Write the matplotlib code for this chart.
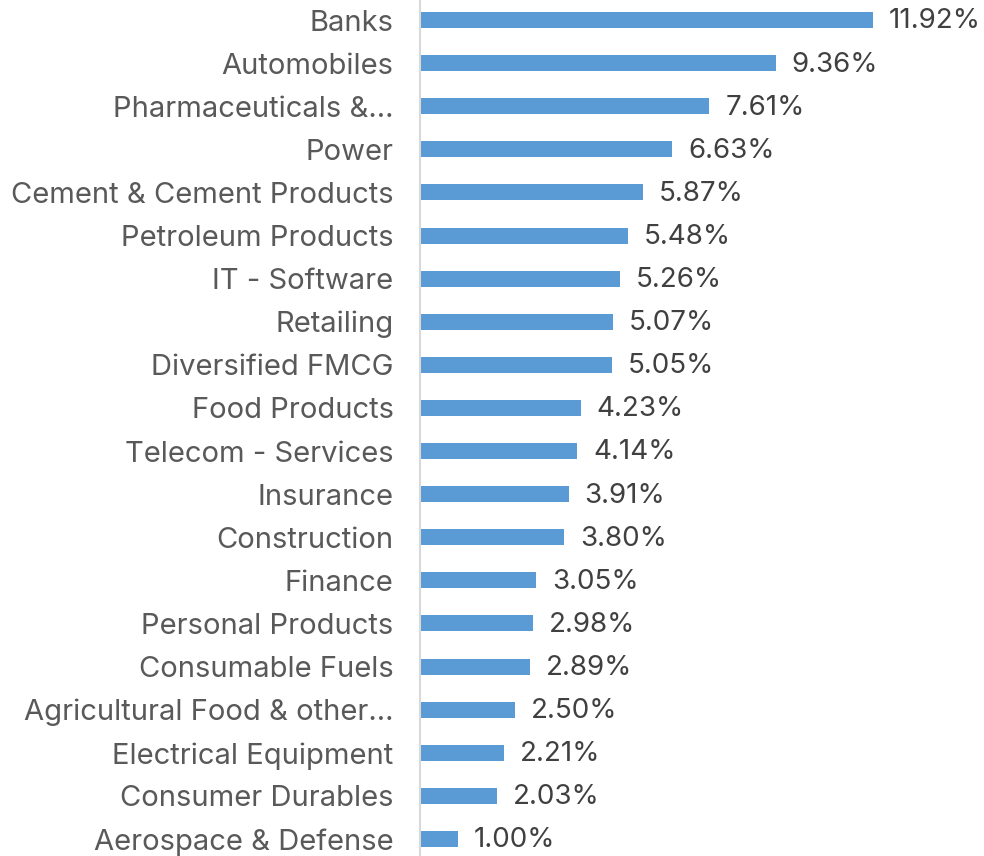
import matplotlib.pyplot as plt

plt.rcParams['font.family'] = ['Inter', 'DejaVu Sans']

sectors = ["Banks", "Automobiles", "Pharmaceuticals &…", "Power",
           "Cement & Cement Products", "Petroleum Products", "IT - Software",
           "Retailing", "Diversified FMCG", "Food Products",
           "Telecom - Services", "Insurance", "Construction", "Finance",
           "Personal Products", "Consumable Fuels",
           "Agricultural Food & other…", "Electrical Equipment",
           "Consumer Durables", "Aerospace & Defense"]
weights = [11.92, 9.36, 7.61, 6.63, 5.87, 5.48, 5.26, 5.07, 5.05, 4.23,
           4.14, 3.91, 3.80, 3.05, 2.98, 2.89, 2.50, 2.21, 2.03, 1.00]

fig = plt.figure(figsize=(9.84, 8.56), dpi=100)
ax = fig.add_axes([420/984, -4.5/856, 564/984, 862/856])

pos = range(len(sectors))
bars = ax.barh(pos, weights, height=0.37, color="#5b9bd5")

for b, v in zip(bars, weights):
    ax.annotate(f"{v:.2f}%", (b.get_width(), b.get_y() + b.get_height()/2),
                xytext=(11.5, -1), textcoords="offset points",
                va="center", ha="left", fontsize=20, color="#404040")

ax.set_yticks(list(pos))
ax.set_yticklabels(sectors, fontsize=21, color="#595959")
ax.tick_params(axis="y", length=0, pad=19)
ax.set_xticks([])
ax.set_xlim(0, 14.84)
ax.set_ylim(len(sectors) - 0.5, -0.5)

for s in ["top", "right", "bottom"]:
    ax.spines[s].set_visible(False)
ax.spines["left"].set_color("#d9d9d9")
ax.spines["left"].set_linewidth(1.5)

fig.savefig("out.png", dpi=100)
